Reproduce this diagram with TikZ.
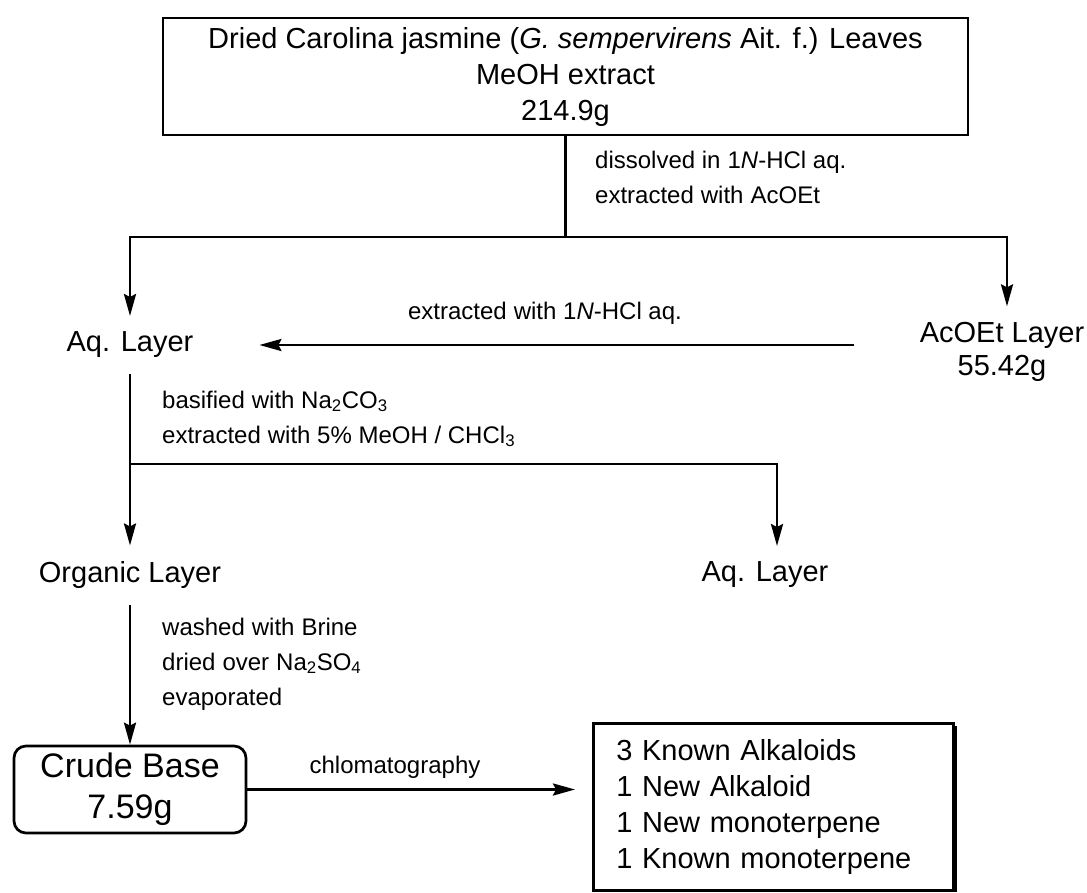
\documentclass[tikz,border=0pt]{standalone}
\usepackage{fontspec}
\setmainfont{Liberation Sans}
\usetikzlibrary{arrows.meta,positioning}

\tikzset{
  flow/.style={line width=2.7pt},
  flowarrow/.style={flow,-{Stealth[length=22pt,width=12pt,inset=3pt]}},
  layer/.style={font=\fontsize{29}{33}\selectfont,inner sep=2pt,outer sep=14pt,align=center},
  note/.style={font=\fontsize{24}{35}\selectfont,inner sep=0pt,align=left,anchor=west},
  frame/.style={draw,line width=2.7pt,align=center},
}
\newcommand{\gap}{\hspace{7pt}}

\begin{document}
\begin{tikzpicture}[x=1pt,y=-1pt]
	\useasboundingbox (0,0) rectangle (1087,892);
	% starting extract
	\node[frame,minimum width=805pt,minimum height=117pt,font=\fontsize{29}{36}\selectfont] (leaves) at (565.5,76.5)
		{Dried Carolina jasmine (\textit{G. sempervirens} Ait. f.) Leaves\\MeOH extract\\214.9g};
	\coordinate (split) at (565.5,237);
	\node[layer] (aqA) at (130,345) {Aq. Layer};
	\node[layer] (acoet) at (1002,352) {AcOEt Layer\\55.42g};
	\draw[flow] (leaves.south) -- (split);
	\draw[flowarrow] (split) -| ([xshift=5pt]acoet.north);
	\draw[flowarrow] (split) -| (aqA);
	\node[note] (dissolve) at (595,177.5) {dissolved in\gap 1\textit{N}-HCl aq.\\extracted\gap with\gap AcOEt};
	% back extraction
	\draw[flowarrow] ([xshift=-50pt]acoet.west |- aqA) -- ([xshift=50pt]aqA.east);
	\node[note,anchor=center] (reextract) at (545,313) {extracted\gap with 1\textit{N}-HCl aq.};
	% basify
	\coordinate (branch) at (130,464);
	\node[layer] (organic) at (130,575) {Organic Layer};
	\node[layer] (aqB) at (765,575) {Aq. Layer};
	\draw[flowarrow] (aqA) -- (organic);
	\draw[flowarrow] (branch) -| ([xshift=12pt]aqB.north);
	\node[note] (basify) at (162,419) {basified\gap with Na\textsubscript{2}CO\textsubscript{3}\\extracted\gap with 5\% MeOH / CHCl\textsubscript{3}};
	% work-up
	\node[draw,line width=2.7pt,rounded corners=12pt,minimum width=232pt,minimum height=87pt,
		font=\fontsize{34}{41}\selectfont,align=center] (crude) at (130,789.5) {Crude Base\\7.59g};
	\draw[flowarrow] (organic) -- (crude);
	\node[note] (workup) at (162,664) {washed\gap with\gap Brine\\dried\gap over\gap Na\textsubscript{2}SO\textsubscript{4}\\evaporated};
	% separation
	\node[frame,anchor=north west,minimum height=167pt,text width=314pt,inner xsep=23pt,align=left,
		font=\fontsize{29}{36}\selectfont] (products) at (592,722)
		{3 Known Alkaloids\\1 New Alkaloid\\1 New monoterpene\\1 Known monoterpene};
	\draw[line width=5pt] ([yshift=-4pt]products.north east) -- (products.south east);
	\draw[flowarrow] (crude.east) -- ([xshift=-17pt]products.west |- crude.east);
	\node[note,anchor=center] (chroma) at (395,767) {chlomatography};
\end{tikzpicture}
\end{document}
